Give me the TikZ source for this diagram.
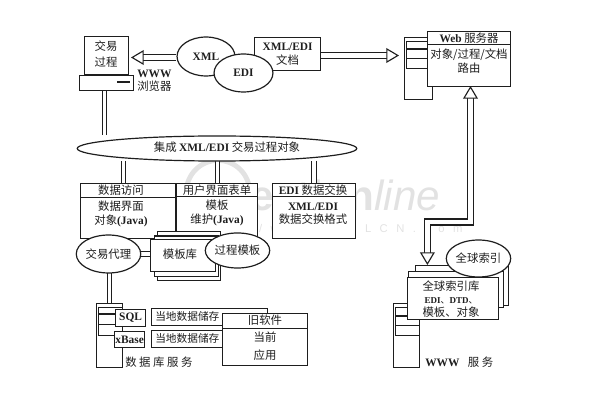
\documentclass[tikz,border=0pt]{standalone}
\usepackage{fontspec}
\setmainfont{Noto Sans CJK SC}
\newfontfamily\latfont{Liberation Serif}
\newfontfamily\markfont[LetterSpace=75]{Liberation Sans}
\newfontfamily\logofont{Liberation Sans}
\newcommand{\lat}[1]{{\latfont\bfseries #1}}
\usetikzlibrary{shapes.geometric, arrows.meta, positioning, fit, backgrounds, calc}
\definecolor{inkline}{RGB}{30,30,30}
\definecolor{marktext}{RGB}{226,226,226}
\tikzset{
  box/.style={
    rectangle, draw=inkline, fill=white,
    line width=0.85pt, inner sep=0pt, text=inkline
  },
  oval/.style={
    ellipse, draw=inkline, fill=white, line width=0.85pt,
    inner sep=0pt, text=inkline, font=\fontsize{8.1}{9.5}\selectfont
  },
  caption/.style={
    text=inkline, inner sep=0pt, align=center,
    font=\fontsize{8.1}{9.5}\selectfont
  },
  rule/.style={
    draw=inkline, line width=0.7pt
  },
  pipe/.style={
    draw=inkline, line width=0.7pt, double=white, double distance=2.8pt
  },
  bigpipe/.style={
    pipe, line width=0.8pt, double distance=3.4pt
  },
  wmark/.style={
    text=marktext, inner sep=0pt
  }
}
\newcommand{\tip}{Triangle[length=9pt, width=10.5pt, fill=white, line width=0.8pt]}
% tower case: corner, size and shelf heights, in picture units
\newcommand{\tower}[8]{%
  \node[box, anchor=north west, minimum width=#3*0.71pt, minimum height=#4*0.71pt] (#1) at (#2) {};
  \draw[rule] ($(#1.north west)+(2,#5)$) -- ($(#1.north east)+(0,#5)$);
  \draw[rule, line width=1.3pt] ($(#1.north west)+(2,#6)$) -- ($(#1.north east)+(0,#6)$);
  \draw[rule] ($(#1.north west)+(2,#7)$) -- ($(#1.north east)+(0,#7)$);
  \draw[rule] ($(#1.north west)+(2,#8)$) -- ($(#1.north east)+(0,#8)$);
  \draw[rule] ($(#1.north west)+(2,#5)$) -- ($(#1.north west)+(2,#8)$);
}

\begin{document}
\begin{tikzpicture}[x=0.025cm, y=-0.025cm]
\useasboundingbox (0,0) rectangle (600,400);

% watermark
\begin{scope}[on background layer]
  \node[circle, draw=marktext, line width=3.5pt, minimum size=45pt] (marklogo) at (218,192) {};
  \node[wmark, font=\fontsize{30}{30}\selectfont\logofont\bfseries] (markname) at (345,195) {estion{\mdseries\itshape line}};
  \node[wmark, font=\fontsize{8}{9}\selectfont\markfont] (markurl) at (323,230) {http://www.DQLCN.com};
\end{scope}

% browser
\node[box, anchor=north west, minimum width=31.2pt, minimum height=27pt] (monitor) at (84,36) {};
\node[caption] (monitortext) at (106,54) {交易\\[2pt]过程};
\node[box, anchor=north west, minimum width=38.3pt, minimum height=10.6pt] (browser) at (79,75) {};
\draw[rule, line width=1.3pt] (117,82) -- (130,82);
\node[caption, anchor=west] (browsertext) at (137,81) {\lat{WWW}\\浏览器};

% formats
\node[box, anchor=north west, minimum width=46.9pt, minimum height=23.4pt, caption, draw=inkline] (xmldoc) at (254,37) {\lat{XML/EDI}\\文档};
\node[oval, minimum width=41.2pt, minimum height=27.7pt] (xml) at (206,56.5) {\lat{XML}};
\node[oval, minimum width=41.9pt, minimum height=27pt] (edi) at (243.5,73) {\lat{EDI}};

% integration bus
\node[oval, minimum width=198.8pt, minimum height=17.8pt] (bus) at (217,148.5) {};
\node[caption] (bustext) at (227,147) {集成 \lat{XML/EDI} 交易过程对象};

% service boxes
\node[box, anchor=north west, minimum width=67.4pt, minimum height=39pt] (access) at (80,183) {};
\draw[rule] (80,197) -- (175,197);
\node[caption] (accesshead) at (121,190) {数据访问};
\node[caption] (accesstext) at (121,214) {数据界面\\对象\lat{(Java)}};

\node[box, anchor=north west, minimum width=57.5pt, minimum height=39pt] (forms) at (176,183) {};
\draw[rule] (176,196) -- (257,196);
\node[caption] (formshead) at (217,190) {用户界面表单};
\node[caption] (formstext) at (217,213) {模板\\维护\lat{(Java)}};

\node[box, anchor=north west, minimum width=58.9pt, minimum height=39pt] (exchange) at (272,183) {};
\draw[rule] (272,196) -- (355,196);
\node[caption] (exchangehead) at (313,190) {\lat{EDI} 数据交换};
\node[caption] (exchangetext) at (313,214) {\lat{XML/EDI}\\数据交换格式};

% template stack
\node[box, anchor=north west, minimum width=44.7pt, minimum height=35pt] (tplback) at (157,231) {};
\node[box, anchor=north west, minimum width=45.4pt, minimum height=29pt] (tplmid) at (154,235.5) {};
\node[box, anchor=north west, minimum width=46.2pt, minimum height=22.7pt] (tplfront) at (150,239) {};
\node[caption] (tpltext) at (180,254) {模板库};
\node[oval, minimum width=40.5pt, minimum height=24.9pt] (process) at (237.5,250.5) {过程模板};
\node[oval, minimum width=37.6pt, minimum height=27pt] (agent) at (108.5,254) {交易代理};

% database server
\tower{dbserver}{96,303}{26}{64}{4}{11}{21}{32}
\node[box, anchor=north west, minimum width=21.3pt, minimum height=12.1pt, caption, draw=inkline] (sql) at (115,309) {\lat{SQL}};
\node[box, anchor=north west, minimum width=21.3pt, minimum height=11.4pt, caption, draw=inkline] (xbase) at (114,331) {\lat{xBase}};
\node[box, anchor=north west, minimum width=82.4pt, minimum height=12.1pt] (store1) at (151,308) {};
\node[box, anchor=north west, minimum width=82.4pt, minimum height=12.1pt] (store2) at (151,330) {};
\node[caption, anchor=west, font=\fontsize{7.6}{9}\selectfont] (store1text) at (155,316) {当地数据储存};
\node[caption, anchor=west, font=\fontsize{7.6}{9}\selectfont] (store2text) at (155,338) {当地数据储存};
\node[box, anchor=north west, minimum width=60.4pt, minimum height=36.9pt] (legacy) at (222,313) {};
\draw[rule] (222,328) -- (307,328);
\node[caption] (legacyhead) at (265,320) {旧软件};
\node[caption] (legacytext) at (265,346) {当前\\[3pt]应用};
\node[caption, anchor=west] (dbtext) at (125,362) {数 据 库 服 务};

% web server
\tower{webserver}{404,37}{28}{62}{4}{12}{21}{31}
\node[box, anchor=north west, minimum width=58.9pt, minimum height=39pt] (web) at (427,31) {};
\draw[rule] (427,44) -- (510,44);
\node[caption] (webhead) at (469,38) {\lat{Web} 服务器};
\node[caption] (webtext) at (469,61) {对象/过程/文档\\路由};

% www server and index stack
\tower{wwwserver}{393,303}{26}{64}{4}{13}{22}{32}
\node[box, anchor=north west, minimum width=66pt, minimum height=28.4pt] (idxback) at (415,265) {};
\node[box, anchor=north west, minimum width=67.4pt, minimum height=25.6pt] (idxmid) at (408,271) {};
\node[box, anchor=north west, minimum width=64.6pt, minimum height=29.8pt] (idxfront) at (407,277) {};
\node[caption] (idxtext) at (451,299) {全球索引库\\{\fontsize{6.4}{9.5}\selectfont\lat{EDI}、\lat{DTD}、}\\模板、对象};
\node[oval, minimum width=40.5pt, minimum height=26.3pt] (index) at (478.5,258.5) {全球索引};
\node[caption, anchor=west] (wwwtext) at (425,362) {\lat{WWW}\hspace{6pt}服 务};

% connectors
\begin{scope}[on background layer]
  \draw[pipe] (browser.south -| 104.5,0) -- (bus.north -| 104.5,0);
  \draw[pipe] (123.5,161) -- (access.north -| 123.5,0);
  \draw[pipe] (217.5,161) -- (forms.north -| 217.5,0);
  \draw[pipe] (314,161) -- (exchange.north -| 314,0);
  \draw[pipe] (agent.east |- 0,254) -- (tplfront.west |- 0,254);
  \draw[pipe] (109.5,272) -- (dbserver.north -| 109.5,0);
\end{scope}
\draw[bigpipe, {\tip}-] (131,57.5) -- (xml.west |- 0,57.5);
\draw[bigpipe, -{\tip}] (xmldoc.east |- 0,55.5) -- (399,55.5);
\draw[bigpipe, {\tip}-{\tip}] (470.5,86) |- (427.4,222) -- (427.4,265);

\end{tikzpicture}
\end{document}
